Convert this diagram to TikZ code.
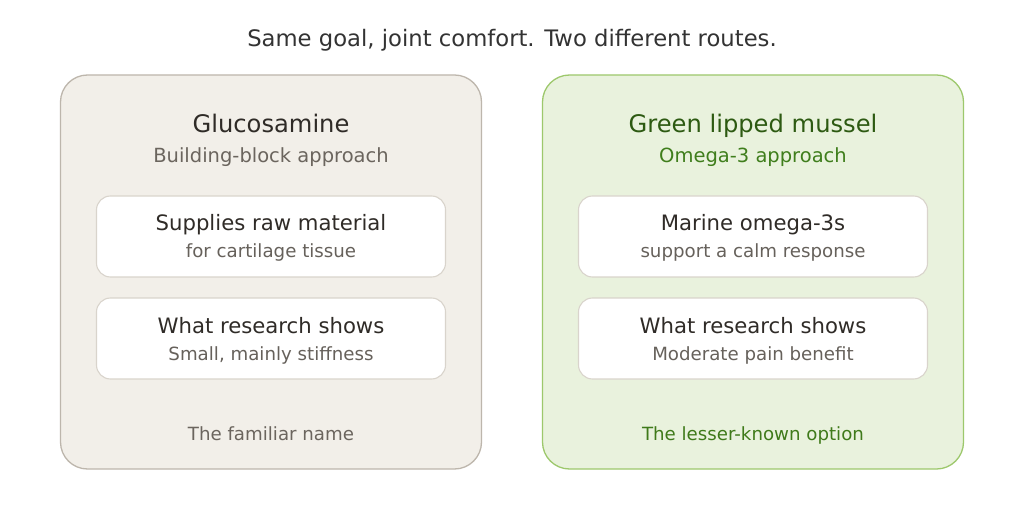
\documentclass[tikz,border=0pt]{standalone}
\usepackage{fontspec}
\setmainfont{DejaVu Sans}
\definecolor{titlec}{HTML}{333333}
\definecolor{darkt}{HTML}{2F2B27}
\definecolor{grayt}{HTML}{6B655E}
\definecolor{subt}{HTML}{66615B}
\definecolor{lfill}{HTML}{F2EFE9}
\definecolor{lstroke}{HTML}{BDB6AC}
\definecolor{rfill}{HTML}{E9F2DD}
\definecolor{rstroke}{HTML}{9DC86C}
\definecolor{istroke}{HTML}{D9D4CC}
\definecolor{rhead}{HTML}{2D5A12}
\definecolor{rsub}{HTML}{3F7E1C}
\definecolor{rfoot}{HTML}{3F7A1A}
\tikzset{
  panel/.style={rectangle, rounded corners=27pt, line width=1.3pt, minimum width=421pt, minimum height=394pt, inner sep=0pt},
  lpanel/.style={panel, draw=lstroke, fill=lfill},
  rpanel/.style={panel, draw=rstroke, fill=rfill},
  ibox/.style={rectangle, rounded corners=14pt, draw=istroke, fill=white, line width=1.1pt, minimum width=349pt, minimum height=81pt, inner sep=0pt},
  txt/.style={anchor=base, inner sep=0pt},
  titletxt/.style={txt, font=\fontsize{22.7pt}{26pt}\selectfont, text=titlec},
  headtxt/.style={txt, font=\fontsize{24.2pt}{28pt}\selectfont},
  subtxt/.style={txt, font=\fontsize{19.5pt}{23pt}\selectfont},
  maintxt/.style={txt, font=\fontsize{21.2pt}{25pt}\selectfont, text=darkt},
  smalltxt/.style={txt, font=\fontsize{18.2pt}{22pt}\selectfont, text=subt},
  foottxt/.style={txt, font=\fontsize{18.2pt}{22pt}\selectfont},
}
\begin{document}
\begin{tikzpicture}[x=1pt,y=-1pt]
\useasboundingbox[fill=white] (0,0) rectangle (1024,518);
\node[titletxt] (title) at (512,47) {Same goal, joint comfort. Two different routes.};
% left panel
\node[lpanel] (lp) at (271,272) {};
\node[headtxt, text=darkt] (lh) at (271,133) {Glucosamine};
\node[subtxt, text=grayt] (ls) at (271,163) {Building-block approach};
\node[ibox] (lb1) at (271,236.5) {};
\node[maintxt] (lb1a) at (271,230.5) {Supplies raw material};
\node[smalltxt] (lb1b) at (271,257.5) {for cartilage tissue};
\node[ibox] (lb2) at (271,338.5) {};
\node[maintxt] (lb2a) at (271,333) {What research shows};
\node[smalltxt] (lb2b) at (271,360) {Small, mainly stiffness};
\node[foottxt, text=grayt] (lf) at (271,440) {The familiar name};
% right panel
\node[rpanel] (rp) at (753,272) {};
\node[headtxt, text=rhead] (rh) at (753,133) {Green lipped mussel};
\node[subtxt, text=rsub] (rs) at (753,163) {Omega-3 approach};
\node[ibox] (rb1) at (753,236.5) {};
\node[maintxt] (rb1a) at (753,230.5) {Marine omega-3s};
\node[smalltxt] (rb1b) at (753,257.5) {support a calm response};
\node[ibox] (rb2) at (753,338.5) {};
\node[maintxt] (rb2a) at (753,333) {What research shows};
\node[smalltxt] (rb2b) at (753,360) {Moderate pain benefit};
\node[foottxt, text=rfoot] (rf) at (753,440) {The lesser-known option};
\end{tikzpicture}
\end{document}
